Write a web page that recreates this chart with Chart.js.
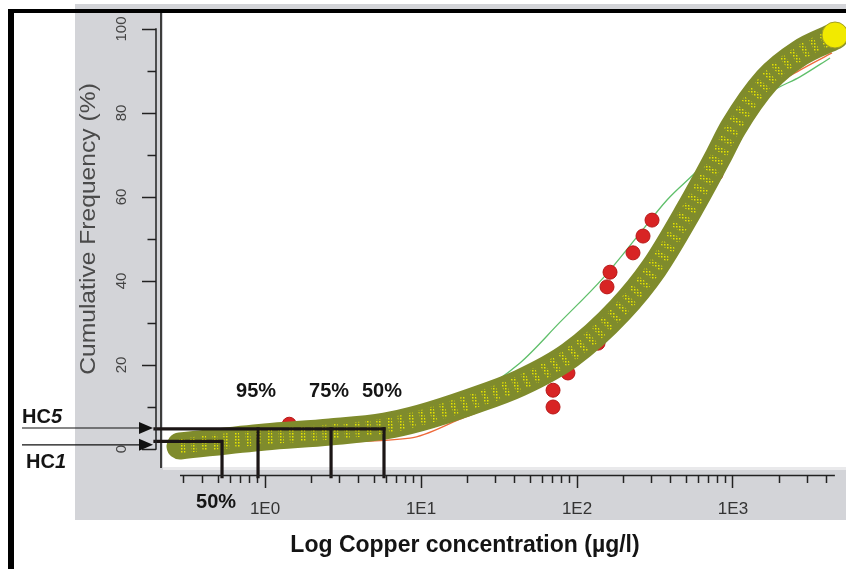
<!DOCTYPE html>
<html><head><meta charset="utf-8">
<script src="https://cdn.jsdelivr.net/npm/chart.js@4.4.1/dist/chart.umd.min.js"></script>
<style>html,body{margin:0;padding:0;background:#fff;overflow:hidden}canvas{display:block}</style>
</head><body>
<canvas id="c" width="846" height="569"></canvas>
<script>
// ---- data ----
// fitted SSD band (cloud of curves): concentration (µg/l) and cumulative frequency (%)
const bandConc = [0.285, 1.0, 2.61, 5.88, 9.85, 20.6, 43.1, 90.2, 188.6, 311.6, 522, 801, 1000, 1652, 2687, 4508];
const bandFreq = [0.71, 2.86, 4.05, 5.48, 7.38, 11.19, 15.71, 22.38, 33.10, 43.10, 56.90, 69.52, 76.43, 87.86, 94.29, 98.33];
// end marker of the band
const endConc = [4508];
const endFreq = [98.57];
// thin green fitted curve
const greenConc = [0.285, 1.676, 7.33, 20.6, 43.1, 77.8, 146.8, 242.5, 377.6, 614, 1109, 1726, 2687, 4188];
const greenFreq = [0.71, 2.86, 5.71, 12.4, 20.5, 30.2, 40.7, 50.5, 59.3, 66.9, 77.9, 84.8, 88.6, 93.1];
// thin orange fitted curve
const orangeConc = [0.285, 1.676, 8.5, 17.8, 37.2, 90.2, 188.6, 457, 826, 1285, 1914, 2687, 4313];
const orangeFreq = [0.3, 1.5, 2.6, 7.1, 11.9, 19.3, 31.2, 51.7, 67.6, 79.0, 86.7, 90.2, 94.3];
// observed toxicity data (red points)
const obsConc = [1.43, 70.2, 70.2, 87.5, 136.4, 155.7, 162.8, 228.5, 265, 302.6, 778];
const obsFreq = [5.9, 10.0, 14.0, 18.1, 25.2, 38.6, 42.1, 46.7, 50.7, 54.5, 65.5];
// hazardous concentrations
const hcStartConc = 0.197;
const hc5Level = 4.8;
const hc5Bounds = [0.902, 2.65, 5.79];
const hc5BoundLabels = ['95%', '75%', '50%'];
const hc1Level = 1.8;
const hc1Bound = 0.53;
const hc1BoundLabel = '50%';
const hcDropTo = -6.6;
const arrowLevels = [5, 1];
const arrowLabels = ['5', '1'];
// axes
const xMin = 0.2, xMax = 5302;
const yMin = -6.19, yMax = 103.81;
const xAxisFrom = 0.285, xAxisTo = 4500;
const xTickValues = [0.3,0.4,0.5,0.6,0.7,0.8,0.9,1,2,3,4,5,6,7,8,9,10,20,30,40,50,60,70,80,90,100,200,300,400,500,600,700,800,900,1000,2000,3000,4000];
const yTickValues = [0,10,20,30,40,50,60,70,80,90,100];
const xTitle = 'Log Copper concentration (µg/l)';
const yTitle = 'Cumulative Frequency (%)';

// ---- drawing ----
const FONT = '"Liberation Sans", Arial, Helvetica, sans-serif';
const pts = (xs, ys) => xs.map((x, i) => ({x: x, y: ys[i]}));
const isDecade = v => Math.abs(Math.log10(v) - Math.round(Math.log10(v))) < 1e-9;
const noPad = s => { s.paddingLeft = 0; s.paddingRight = 0; s.paddingTop = 0; s.paddingBottom = 0; };

const canvas = document.getElementById('c');
const pc = document.createElement('canvas');
pc.width = 3; pc.height = 3;
const pctx = pc.getContext('2d');
pctx.fillStyle = '#e9e600';
pctx.fillRect(1, 1, 1.5, 1.5);
const dotPattern = canvas.getContext('2d').createPattern(pc, 'repeat');

const hcLine = (data, order) => ({
  data: data, order: order, borderColor: '#1c1616', borderWidth: 3.2, pointRadius: 0,
  clip: false, tension: 0, borderCapStyle: 'square', borderJoinStyle: 'miter', fill: false
});

const datasets = [
  hcLine(pts([hcStartConc, hc5Bounds[2]], [hc5Level, hc5Level]), 0),
  hcLine(pts([hc5Bounds[0], hc5Bounds[0]], [hc5Level, hcDropTo]), 0),
  hcLine(pts([hc5Bounds[1], hc5Bounds[1]], [hc5Level, hcDropTo]), 0),
  hcLine(pts([hc5Bounds[2], hc5Bounds[2]], [hc5Level, hcDropTo]), 0),
  hcLine(pts([hcStartConc, hc1Bound, hc1Bound], [hc1Level, hc1Level, hcDropTo]), 0),
  { data: pts(endConc, endFreq), order: 1, showLine: false, clip: false,
    pointRadius: 13, pointBackgroundColor: '#f2ea00', pointBorderColor: '#a3a023', pointBorderWidth: 1 },
  { data: pts(bandConc, bandFreq), order: 2, borderColor: dotPattern, borderWidth: 15,
    borderDash: [5, 6], cubicInterpolationMode: 'monotone', pointRadius: 0, fill: false },
  { data: pts(bandConc, bandFreq), order: 3, borderColor: '#7f8b2c', borderWidth: 27,
    borderCapStyle: 'round', borderJoinStyle: 'round', cubicInterpolationMode: 'monotone', pointRadius: 0, fill: false, clip: false },
  { data: pts(obsConc, obsFreq), order: 4, showLine: false, pointRadius: 7,
    pointBackgroundColor: '#d82424', pointBorderColor: '#b81818', pointBorderWidth: 1 },
  { data: pts(orangeConc, orangeFreq), order: 5, borderColor: '#ee6a3a', borderWidth: 1.3,
    cubicInterpolationMode: 'monotone', pointRadius: 0, fill: false },
  { data: pts(greenConc, greenFreq), order: 6, borderColor: '#5fbf6a', borderWidth: 1.3,
    cubicInterpolationMode: 'monotone', pointRadius: 0, fill: false }
];

const decor = {
  id: 'decor',
  beforeDraw(chart) {
    const {ctx, chartArea: a} = chart;
    ctx.save();
    ctx.fillStyle = '#ffffff'; ctx.fillRect(0, 0, chart.width, chart.height);
    ctx.fillStyle = '#d3d4d8'; ctx.fillRect(75, 4, chart.width - 75, 516);
    ctx.fillStyle = '#ffffff'; ctx.fillRect(a.left + 7, a.top, a.right - a.left - 7, 454);
    ctx.fillStyle = '#e9e9eb'; ctx.fillRect(a.left + 7, a.top + 454, a.right - a.left - 7, 3);
    ctx.strokeStyle = '#3c3c3c'; ctx.lineWidth = 2;
    ctx.beginPath(); ctx.moveTo(a.left + 5, a.top); ctx.lineTo(a.left + 5, a.top + 455); ctx.stroke();
    ctx.restore();
  },
  afterDraw(chart) {
    const {ctx, chartArea: a, scales: {x, y}} = chart;
    ctx.save();
    // axis lines
    ctx.strokeStyle = '#222'; ctx.lineWidth = 1.5;
    ctx.beginPath();
    ctx.moveTo(a.left, y.getPixelForValue(100) - 0.7);
    ctx.lineTo(a.left, y.getPixelForValue(0) + 0.7);
    ctx.moveTo(x.getPixelForValue(xAxisFrom), a.bottom + 0.5);
    ctx.lineTo(x.getPixelForValue(xAxisTo), a.bottom + 0.5);
    ctx.stroke();
    // HC arrows
    ctx.strokeStyle = '#111'; ctx.fillStyle = '#111'; ctx.lineWidth = 1.2;
    arrowLevels.forEach(lv => {
      const ty = y.getPixelForValue(lv);
      const tip = a.left - 3;
      ctx.beginPath(); ctx.moveTo(22, ty); ctx.lineTo(tip - 10, ty); ctx.stroke();
      ctx.beginPath(); ctx.moveTo(tip, ty); ctx.lineTo(tip - 14, ty - 6); ctx.lineTo(tip - 14, ty + 6); ctx.closePath(); ctx.fill();
    });
    // HC labels
    ctx.fillStyle = '#141414';
    ctx.textBaseline = 'alphabetic'; ctx.textAlign = 'left';
    const hcText = (num, lx, by) => {
      ctx.font = 'bold 20px ' + FONT;
      ctx.fillText('HC', lx, by);
      const w = ctx.measureText('HC').width;
      ctx.font = 'italic bold 20px ' + FONT;
      ctx.fillText(num, lx + w, by);
    };
    hcText(arrowLabels[0], 22, y.getPixelForValue(arrowLevels[0]) - 5);
    hcText(arrowLabels[1], 26, y.getPixelForValue(arrowLevels[1]) + 23);
    ctx.font = 'bold 20px ' + FONT; ctx.textAlign = 'center';
    hc5Bounds.forEach((v, i) => {
      ctx.fillText(hc5BoundLabels[i], x.getPixelForValue(v) - 2, y.getPixelForValue(hc5Level) - 32);
    });
    ctx.fillText(hc1BoundLabel, x.getPixelForValue(hc1Bound) - 6, a.bottom + 33);
    // axis titles
    ctx.font = 'bold 23px ' + FONT; ctx.textAlign = 'center'; ctx.fillStyle = '#141414';
    ctx.fillText(xTitle, 465, 552);
    ctx.save();
    ctx.translate(89, 229); ctx.rotate(-Math.PI / 2); ctx.scale(1.12, 1);
    ctx.font = '22px ' + FONT; ctx.fillStyle = '#4a4a4a'; ctx.textBaseline = 'middle';
    ctx.fillText(yTitle, 0, 0);
    ctx.restore();
    // outer black frame
    ctx.fillStyle = '#000';
    ctx.fillRect(8, 9, chart.width - 8, 4);
    ctx.fillRect(8, 9, 6, chart.height - 9);
    ctx.restore();
  }
};

new Chart(canvas, {
  type: 'line',
  data: { datasets: datasets },
  options: {
    responsive: false, animation: false, devicePixelRatio: 1, events: [],
    layout: { autoPadding: false, padding: { left: 0, top: 13, right: 0, bottom: 0 } },
    plugins: { legend: { display: false }, tooltip: { enabled: false } },
    scales: {
      x: {
        type: 'logarithmic', position: 'bottom', min: xMin, max: xMax,
        afterBuildTicks: s => { s.ticks = xTickValues.map(v => ({value: v})); },
        afterFit: s => { s.height = 94; noPad(s); },
        border: { display: false },
        grid: { drawOnChartArea: false, drawTicks: true, tickLength: 13, tickColor: '#222', tickWidth: 1.5,
          tickBorderDash: c => (c.tick && isDecade(c.tick.value)) ? [] : [8, 100] },
        ticks: { autoSkip: false, minRotation: 0, maxRotation: 0, padding: 11, color: '#333',
          font: { family: FONT, size: 17 },
          callback: v => isDecade(v) ? '1E' + Math.round(Math.log10(v)) : '' }
      },
      y: {
        type: 'linear', position: 'left', min: yMin, max: yMax,
        afterBuildTicks: s => { s.ticks = yTickValues.map(v => ({value: v})); },
        afterFit: s => { s.width = 156; noPad(s); },
        border: { display: false },
        grid: { drawOnChartArea: false, drawTicks: true, tickLength: 14, tickColor: '#222', tickWidth: 1.5,
          tickBorderDash: c => (c.tick && c.tick.value % 20 === 0) ? [] : [0, 5.5, 8.5, 100] },
        ticks: { autoSkip: false, minRotation: 90, maxRotation: 90, crossAlign: 'center', padding: 8, color: '#444',
          font: { family: FONT, size: 15 },
          callback: v => v % 20 === 0 ? String(v) : '' }
      }
    }
  },
  plugins: [decor]
});
</script>
</body></html>
